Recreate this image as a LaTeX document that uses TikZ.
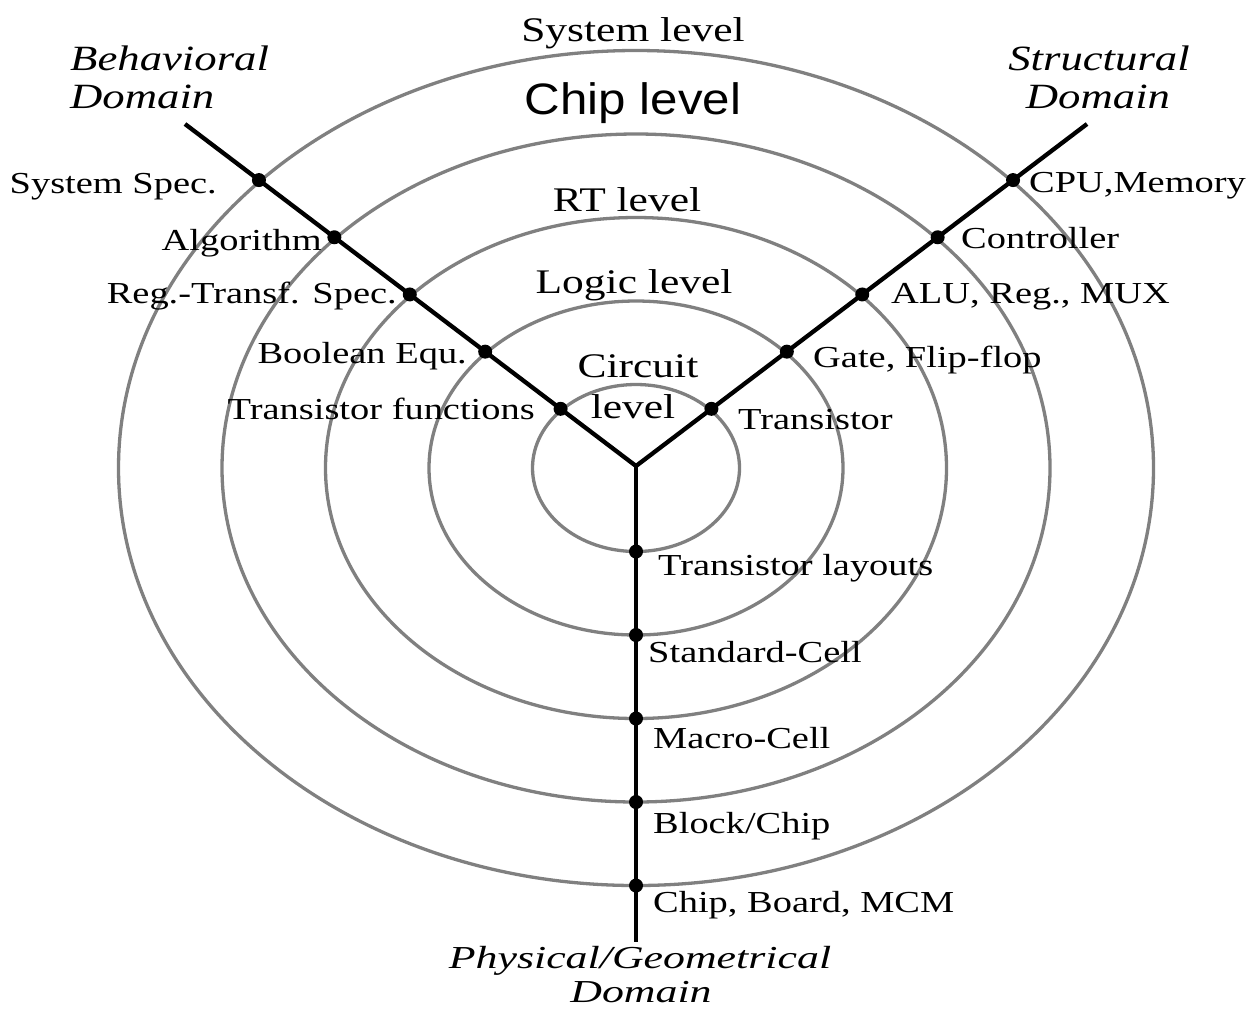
\documentclass[tikz,border=0pt]{standalone}
\usepackage{fontspec}
\setmainfont{Liberation Serif}
\newfontfamily\chipfont{Liberation Sans}
\usepackage{graphicx}
\usetikzlibrary{calc}
\newcommand\wx[1]{\scalebox{1.26}[1]{#1}}
\definecolor{ringgray}{gray}{0.5}
\begin{document}
\begin{tikzpicture}[x=1pt,y=-1pt,
  ring/.style={draw=ringgray, line width=3.3pt},
  arm/.style={draw=black, line width=4.3pt, line join=round},
  dot/.style={circle, fill=black, inner sep=0pt, minimum size=14pt},
  lbl/.style={inner sep=0pt, font=\fontsize{30.5}{36}\selectfont},
  lvl/.style={inner sep=0pt, font=\fontsize{34.5}{40}\selectfont},
  dom/.style={inner sep=0pt, font=\fontsize{35.5}{42}\selectfont\itshape},
  pdom/.style={inner sep=0pt, font=\fontsize{32}{38}\selectfont\itshape},
]
\useasboundingbox[fill=white] (0,0) rectangle (1249,1010);
\coordinate (C) at (636,468);
\coordinate (J) at (636,466);
\coordinate (L) at (185,124);
\coordinate (R) at (1087,124);
\coordinate (B) at (636,942);
% rings
\foreach \k in {1,...,5}{
  \pgfmathsetmacro\rx{103.5*\k}
  \pgfmathsetmacro\ry{83.5*\k}
  \draw[ring] (C) ellipse [x radius=\rx pt, y radius=\ry pt];
}
% Y chart
\draw[arm] (L) -- (J) -- (R);
\draw[arm] (J) -- (B);
% dots
\foreach \k in {1,...,5}{
  \pgfmathsetmacro\f{0.1672*\k}
  \node[dot] (bd\k) at ($(J)!\f!(L)$) {};
  \node[dot] (sd\k) at ($(J)!\f!(R)$) {};
  \pgfmathsetmacro\yy{468+83.5*\k}
  \node[dot] (pd\k) at (636,\yy) {};
}
% level labels
\node[lvl, anchor=base] (sys) at (633,41) {\wx{System level}};
\node[inner sep=0pt, anchor=base, font=\chipfont\fontsize{44}{50}\selectfont] (chip) at (633,114) {\scalebox{1.12}[1]{Chip level}};
\node[lvl, anchor=base] (rt) at (627,211) {\wx{RT level}};
\node[lvl, anchor=base] (logic) at (634,293) {\wx{Logic level}};
\node[lvl, anchor=base] (circ1) at (638,377) {\wx{Circuit}};
\node[lvl, anchor=base] (circ2) at (633,418) {\wx{level}};
% behavioral labels
\node[lbl, anchor=base east] (b5) at (217,193) {\wx{System Spec.}};
\node[lbl, anchor=base east] (b4) at (322,250) {\wx{Algorithm}};
\node[lbl, anchor=base east] (b3) at (397,303) {\wx{Reg.-Transf. Spec.}};
\node[lbl, anchor=base east] (b2) at (467,363) {\wx{Boolean Equ.}};
\node[lbl, anchor=base east] (b1) at (535,419) {\wx{Transistor functions}};
% structural labels
\node[lbl, anchor=base west] (s5) at (1029,192) {\wx{CPU,Memory}};
\node[lbl, anchor=base west] (s4) at (961,248) {\wx{Controller}};
\node[lbl, anchor=base west] (s3) at (891,303) {\wx{ALU, Reg., MUX}};
\node[lbl, anchor=base west] (s2) at (813,367) {\wx{Gate, Flip-flop}};
\node[lbl, anchor=base west] (s1) at (738,429) {\wx{Transistor}};
% physical labels
\node[lbl, anchor=base west] (p1) at (658,575) {\wx{Transistor layouts}};
\node[lbl, anchor=base west] (p2) at (648,662) {\wx{Standard-Cell}};
\node[lbl, anchor=base west] (p3) at (653,748) {\wx{Macro-Cell}};
\node[lbl, anchor=base west] (p4) at (653,833) {\wx{Block/Chip}};
\node[lbl, anchor=base west] (p5) at (653,912) {\wx{Chip, Board, MCM}};
% domains
\node[dom, anchor=base west] (bdom1) at (70,70) {\wx{Behavioral}};
\node[dom, anchor=base west] (bdom2) at (70,108) {\wx{Domain}};
\node[dom, anchor=base] (sdom1) at (1099,70) {\wx{Structural}};
\node[dom, anchor=base] (sdom2) at (1098,108) {\wx{Domain}};
\node[pdom, anchor=base] (pdom1) at (640,968) {\scalebox{1.37}[1]{Physical/Geometrical}};
\node[pdom, anchor=base] (pdom2) at (641,1002) {\scalebox{1.37}[1]{Domain}};
\end{tikzpicture}
\end{document}
